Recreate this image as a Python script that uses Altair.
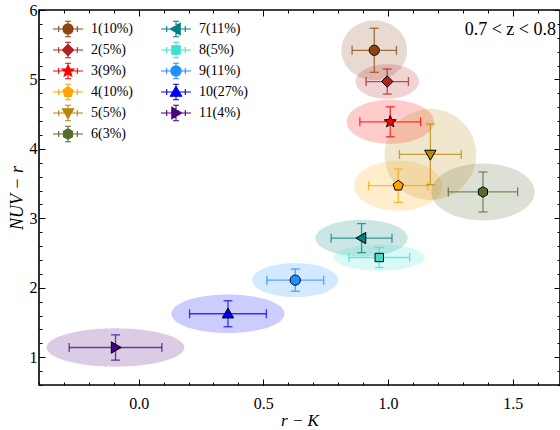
import altair as alt
import numpy as np
import pandas as pd

# ---------------- data ----------------
labels = ["1(10%)", "2(5%)", "3(9%)", "4(10%)", "5(5%)", "6(3%)",
          "7(11%)", "8(5%)", "9(11%)", "10(27%)", "11(4%)"]
series = ["s1", "s2", "s3", "s4", "s5", "s6", "s7", "s8", "s9", "s10", "s11"]
r_k = [0.945, 0.997, 1.009, 1.041, 1.170, 1.381, 0.894, 0.965, 0.628, 0.358, -0.093]
nuv_r = [5.42, 4.97, 4.39, 3.47, 3.92, 3.38, 2.715, 2.436, 2.11, 1.626, 1.14]
r_k_err = [0.089, 0.085, 0.122, 0.119, 0.124, 0.139, 0.122, 0.122, 0.114, 0.154, 0.186]
nuv_r_err = [0.317, 0.18, 0.216, 0.24, 0.437, 0.288, 0.209, 0.144, 0.16, 0.187, 0.182]
r_k_spread = [0.132, 0.127, 0.175, 0.177, 0.184, 0.207, 0.185, 0.182, 0.172, 0.227, 0.276]
nuv_r_spread = [0.43, 0.25, 0.317, 0.36, 0.655, 0.41, 0.264, 0.19, 0.245, 0.278, 0.276]
colors = ["#8B4513", "#B22222", "#FF0000", "#FFA500", "#B8860B", "#556B2F",
          "#008080", "#40E0D0", "#1E90FF", "#0000FF", "#4B0082"]
x_major = [0.0, 0.5, 1.0, 1.5]
x_minor = [round(-0.4 + 0.1 * i, 1) for i in range(21)]
y_major = [1, 2, 3, 4, 5, 6]
y_minor = [round(0.6 + 0.2 * i, 1) for i in range(28)]
annotation = ["0.7 < z < 0.8"]

base = pd.DataFrame({"label": labels, "sid": series, "x": r_k, "y": nuv_r,
                     "xerr": r_k_err, "yerr": nuv_r_err,
                     "rx": r_k_spread, "ry": nuv_r_spread})

# ---------------- marker shapes (unit box, y down) ----------------
def ngon(n, r, rot=-90.0, inner=None):
    pts = []
    for k in range(n):
        a = np.radians(rot + 360.0 * k / n)
        pts.append((r * np.cos(a), r * np.sin(a)))
        if inner is not None:
            a2 = np.radians(rot + 360.0 * (k + 0.5) / n)
            pts.append((inner * np.cos(a2), inner * np.sin(a2)))
    return pts

def path(pts, s=1.0):
    return "M" + "L".join(f"{px * s:.3f},{py * s:.3f}" for px, py in pts) + "Z"

marker_pts = [
    ngon(32, 0.85),                                   # circle
    [(0, -0.95), (0.95, 0), (0, 0.95), (-0.95, 0)],   # diamond
    ngon(5, 1.05, inner=0.45),                        # star
    ngon(5, 0.9),                                     # pentagon
    [(-0.95, -0.7), (0.95, -0.7), (0, 0.95)],         # triangle down
    ngon(6, 0.88),                                    # hexagon
    [(0.7, -0.95), (0.7, 0.95), (-0.95, 0)],          # triangle left
    [(-0.7, -0.7), (0.7, -0.7), (0.7, 0.7), (-0.7, 0.7)],  # square
    ngon(32, 0.85),                                   # circle
    [(-0.95, 0.7), (0.95, 0.7), (0, -0.95)],          # triangle up
    [(-0.7, -0.95), (-0.7, 0.95), (0.95, 0)],         # triangle right
]
marker_paths = [path(p) for p in marker_pts]
# legend glyph: error-bar cross plus marker, drawn in a 20px box (overflowing it)
cross = ("M-1.5,0H1.5M0,-0.78V0.78M-0.3,-0.78H0.3M-0.3,0.78H0.3"
         "M-0.93,-0.3V0.3M0.93,-0.3V0.3")
legend_paths = [cross + path(p, 0.6) for p in marker_pts]

serif = "Liberation Serif"
xs = alt.Scale(domain=[-0.4, 1.69], nice=False, zero=False)
ys = alt.Scale(domain=[0.6, 6.0], nice=False, zero=False)
cscale = alt.Scale(domain=series, range=colors)

ax_bottom = alt.Axis(orient="bottom", values=x_major, format=".1f", offset=-6, tickSize=6,
                     labelPadding=10, labelFont=serif, labelFontSize=16,
                     title="r − K", titleFont=serif, titleFontStyle="italic",
                     titleFontWeight="normal", titleFontSize=17, titlePadding=1)
ax_bottom_minor = alt.Axis(orient="bottom", values=x_minor, offset=-3, tickSize=3,
                           labels=False, title=None)
ax_left = alt.Axis(orient="left", values=y_major, format="d", offset=-6, tickSize=6,
                   labelPadding=2, labelFont=serif, labelFontSize=16,
                   title="NUV − r", titleFont=serif, titleFontStyle="italic",
                   titleFontWeight="normal", titleFontSize=18, titlePadding=3)
ax_left_minor = alt.Axis(orient="left", values=y_minor, offset=-3, tickSize=3,
                         labels=False, title=None)
ax_top = alt.Axis(orient="top", values=x_major, offset=-6, tickSize=6, labels=False, title=None)
ax_top_minor = alt.Axis(orient="top", values=x_minor, offset=-3, tickSize=3, labels=False, title=None)
ax_right = alt.Axis(orient="right", values=y_major, offset=-6, tickSize=6, labels=False, title=None)
ax_right_minor = alt.Axis(orient="right", values=y_minor, offset=-3, tickSize=3, labels=False, title=None)

color_enc = alt.Color("sid:N", scale=cscale, legend=None)

# ellipses
frac = np.cos(np.linspace(np.pi, 0, 81))
ell_src = base.merge(pd.DataFrame({"u": frac}), how="cross")
ellipses = (
    alt.Chart(ell_src)
    .transform_calculate(ex="datum.x + datum.rx * datum.u")
    .transform_calculate(half="datum.ry * sqrt(max(0, 1 - datum.u * datum.u))")
    .transform_calculate(ey1="datum.y + datum.half", ey2="datum.y - datum.half")
    .mark_area(fillOpacity=0.2, interpolate="linear", orient="vertical")
    .encode(
        x=alt.X("ex:Q", scale=xs, axis=ax_bottom),
        y=alt.Y("ey1:Q", scale=ys, axis=ax_left),
        y2="ey2:Q",
        color=color_enc,
        detail="sid:N",
    )
)

bar_style = dict(opacity=0.75)
xbars = (
    alt.Chart(base)
    .transform_calculate(xlo="datum.x - datum.xerr", xhi="datum.x + datum.xerr")
    .mark_rule(strokeWidth=1.3, **bar_style)
    .encode(
        x=alt.X("xlo:Q", scale=xs, axis=ax_bottom_minor),
        x2="xhi:Q",
        y=alt.Y("y:Q", scale=ys, axis=ax_left_minor),
        color=color_enc,
    )
)
ybars = (
    alt.Chart(base)
    .transform_calculate(ylo="datum.y - datum.yerr", yhi="datum.y + datum.yerr")
    .mark_rule(strokeWidth=1.3, **bar_style)
    .encode(
        x=alt.X("x:Q", scale=xs, axis=ax_top),
        y=alt.Y("ylo:Q", scale=ys, axis=ax_right),
        y2="yhi:Q",
        color=color_enc,
    )
)
xcaps = (
    alt.Chart(base)
    .transform_calculate(xlo="datum.x - datum.xerr", xhi="datum.x + datum.xerr")
    .transform_fold(["xlo", "xhi"], as_=["end", "xc"])
    .mark_tick(orient="vertical", size=9, thickness=1.3, **bar_style)
    .encode(
        x=alt.X("xc:Q", scale=xs, axis=ax_top_minor),
        y=alt.Y("y:Q", scale=ys, axis=ax_right_minor),
        color=color_enc,
    )
)
ycaps = (
    alt.Chart(base)
    .transform_calculate(ylo="datum.y - datum.yerr", yhi="datum.y + datum.yerr")
    .transform_fold(["ylo", "yhi"], as_=["end", "yc"])
    .mark_tick(orient="horizontal", size=9, thickness=1.3, **bar_style)
    .encode(
        x=alt.X("x:Q", scale=xs, axis=None),
        y=alt.Y("yc:Q", scale=ys, axis=None),
        color=color_enc,
    )
)

point_layers = []
for sid, shp in zip(series, marker_paths):
    point_layers.append(
        alt.Chart(base)
        .transform_filter(alt.datum.sid == sid)
        .mark_point(filled=True, opacity=1, stroke="black", strokeWidth=1,
                    size=144, shape=shp)
        .encode(
            x=alt.X("x:Q", scale=xs, axis=None),
            y=alt.Y("y:Q", scale=ys, axis=None),
            color=color_enc,
        )
    )

leg = alt.Legend(title=None, orient="none", legendX=18, legendY=8, columns=2,
                 symbolSize=400, symbolStrokeWidth=1.1, labelFont=serif,
                 labelFontSize=14, labelOffset=12, columnPadding=25, rowPadding=0,
                 padding=0, labelColor="black")
legend_layer = (
    alt.Chart(base)
    .transform_filter("false")
    .mark_point(filled=True, opacity=1)
    .encode(
        x=alt.X("x:Q", scale=xs, axis=None),
        y=alt.Y("y:Q", scale=ys, axis=None),
        fill=alt.Fill("label:N", scale=alt.Scale(domain=labels, range=colors), legend=leg),
        stroke=alt.Stroke("label:N", scale=alt.Scale(domain=labels, range=colors), legend=leg),
        shape=alt.Shape("label:N", scale=alt.Scale(domain=labels, range=legend_paths), legend=leg),
    )
)

note = (
    alt.Chart(pd.DataFrame({"t": annotation}))
    .mark_text(align="right", baseline="middle", font=serif, fontSize=18, color="black")
    .encode(x=alt.value(517), y=alt.value(20), text="t:N")
)

chart = (
    alt.layer(ellipses, xbars, ybars, xcaps, ycaps, legend_layer, *point_layers, note)
    .resolve_axis(x="independent", y="independent")
    .properties(width=521, height=375,
                padding={"left": 39, "top": 10, "right": 0, "bottom": 45},
                autosize=alt.AutoSizeParams(type="none"))
    .configure_view(stroke="black", strokeWidth=1.6)
    .configure_axis(grid=False, domain=False, tickColor="black", tickWidth=1,
                    labelColor="black", titleColor="black")
)

chart.save("out.html", embed_options={"renderer": "svg", "actions": False})
